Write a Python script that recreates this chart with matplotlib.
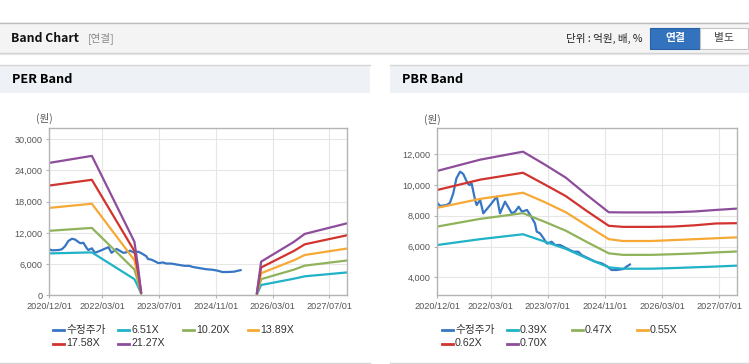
import matplotlib
matplotlib.use("Agg")
import matplotlib.pyplot as plt
import matplotlib.dates as mdates
from matplotlib.patches import Rectangle
from matplotlib.lines import Line2D
from matplotlib.ticker import FuncFormatter, FixedLocator
import pandas as pd

plt.rcParams['font.family'] = ['Liberation Sans', 'Noto Sans CJK KR', 'DejaVu Sans']

# ---------------- data ----------------
price_dates = ['2020-12-01', '2020-12-24', '2021-02-19', '2021-03-19', '2021-04-16', '2021-05-13',
               '2021-06-13', '2021-07-10', '2021-08-16', '2021-09-01', '2021-09-19', '2021-10-19',
               '2021-11-01', '2021-12-01', '2021-12-28', '2022-02-25', '2022-04-22', '2022-05-19',
               '2022-07-01', '2022-08-28', '2022-09-25', '2022-10-25', '2022-11-22', '2023-01-04',
               '2023-02-01', '2023-03-13', '2023-03-28', '2023-04-25', '2023-05-25', '2023-06-22',
               '2023-07-01', '2023-08-01', '2023-09-01', '2023-10-13', '2023-11-10', '2023-12-07',
               '2024-02-04', '2024-03-16', '2024-04-13', '2024-06-10', '2024-08-07', '2024-10-01',
               '2024-11-13', '2024-12-25', '2025-02-07', '2025-04-04', '2025-05-01', '2025-06-01']
price_vals = [8850, 8640, 8700, 8850, 9460, 10440,
              10870, 10720, 10110, 10000, 10110, 9030,
              8700, 9030, 8160, 8700, 9250, 8160,
              8920, 8160, 8270, 8590, 8270, 8380,
              8050, 7510, 6970, 6860, 6540, 6210,
              6200, 6315, 6100, 6100, 5990, 5880,
              5665, 5665, 5450, 5235, 5015, 4910,
              4735, 4475, 4475, 4540, 4690, 4845]

# PER band (two segments, gap between)
per_dates_1 = ['2020-12-01', '2021-12-01', '2022-12-01', '2023-01-01', '2023-01-28']
per_dates_2 = ['2025-10-16', '2025-11-22', '2026-09-01', '2026-12-01', '2027-12-01']
per_labels = ['6.51X', '10.20X', '13.89X', '17.58X', '21.27X']
per_band_1 = [
    [8050, 8250, 3100, 1700, 300],
    [12400, 12950, 4950, 2700, 350],
    [16800, 17600, 6750, 3600, 400],
    [21100, 22200, 8500, 4500, 450],
    [25450, 26800, 10300, 5500, 500],
]
per_band_2 = [
    [120, 1980, 3200, 3650, 4400],
    [180, 3100, 4950, 5700, 6700],
    [250, 4250, 6750, 7750, 9000],
    [320, 5350, 8550, 9800, 11550],
    [380, 6470, 10300, 11800, 13850],
]

# PBR band
pbr_dates = ['2020-12-01', '2021-12-01', '2022-12-01', '2023-06-01', '2023-12-01', '2024-06-01',
             '2024-12-01', '2025-04-01', '2025-12-01', '2026-06-01', '2026-12-01', '2027-06-01',
             '2027-12-01']
pbr_labels = ['0.39X', '0.47X', '0.55X', '0.62X', '0.70X']
pbr_band = [
    [6100, 6480, 6800, 6330, 5850, 5230, 4650, 4560, 4560, 4600, 4650, 4700, 4760],
    [7300, 7800, 8170, 7620, 7030, 6280, 5560, 5460, 5460, 5500, 5550, 5620, 5680],
    [8520, 9100, 9500, 8900, 8230, 7350, 6480, 6360, 6360, 6420, 6480, 6540, 6600],
    [9680, 10350, 10800, 10050, 9280, 8290, 7350, 7280, 7280, 7300, 7380, 7500, 7520],
    [10920, 11650, 12170, 11350, 10480, 9330, 8230, 8220, 8220, 8230, 8280, 8380, 8470],
]

price_label = '수정주가'
x_ticks = ['2020-12-01', '2022-03-01', '2023-07-01', '2024-11-01', '2026-03-01', '2027-07-01']
x_range = ['2020-12-01', '2027-12-01']
per_yticks = [0, 6000, 12000, 18000, 24000, 30000]
pbr_yticks = [4000, 6000, 8000, 10000, 12000]

# ---------------- style ----------------
price_color = '#3776c4'
band_colors = ['#20b2c6', '#8fb35b', '#f6a935', '#d1332e', '#8d4d9b']
W, H = 749, 364

fig = plt.figure(figsize=(W / 100, H / 100), dpi=100)
fig.patch.set_facecolor('white')


def fx(x):
    return x / W


def fy(y):
    return 1 - y / H


def rect(x0, y0, x1, y1, fc, ec='none', lw=0.0, z=0):
    fig.patches.append(Rectangle((fx(x0), fy(y1)), (x1 - x0) / W, (y1 - y0) / H,
                                 transform=fig.transFigure, facecolor=fc,
                                 edgecolor=ec, linewidth=lw, zorder=z))


def hline(x0, x1, y, color, lw=0.8):
    fig.add_artist(Line2D([fx(x0), fx(x1)], [fy(y), fy(y)], color=color, lw=lw,
                          transform=fig.transFigure))


# top header bar
rect(0, 22, W, 53, '#f4f4f4')
hline(0, W, 22.5, '#bdbdbd', 1.0)
hline(0, W, 53.0, '#cfcfcf', 1.0)
hline(0, W, 54.0, '#e6e6e6', 1.0)
fig.text(fx(11), fy(38.5), 'Band Chart', fontsize=8.8, fontweight='bold', color='#111111',
         ha='left', va='center', family=['Noto Sans CJK KR', 'DejaVu Sans'])
fig.text(fx(88), fy(38.5), '[연결]', fontsize=7.6, color='#8a8a8a', ha='left', va='center',
         family=['Noto Sans CJK KR', 'DejaVu Sans'])
fig.text(fx(643), fy(38.5), '단위 : 억원, 배, %', fontsize=7.6, color='#222222', ha='right',
         va='center', family=['Noto Sans CJK KR', 'DejaVu Sans'])
rect(650, 28, 700, 49, '#3372bc', '#2a61a3', 0.8, z=2)
rect(700, 28, 748, 49, '#ffffff', '#c4c4c4', 0.8, z=2)
fig.text(fx(675), fy(38.5), '연결', fontsize=7.8, fontweight='bold', color='white',
         ha='center', va='center', family=['Noto Sans CJK KR', 'DejaVu Sans'], zorder=3)
fig.text(fx(724), fy(38.5), '별도', fontsize=7.8, color='#444444',
         ha='center', va='center', family=['Noto Sans CJK KR', 'DejaVu Sans'], zorder=3)

# panel headers
for (x0, x1, title, tx) in [(0, 370, 'PER Band', 12), (390, W, 'PBR Band', 402)]:
    rect(x0, 65, x1, 93, '#eef1f6')
    hline(x0, x1, 64.5, '#d6d6d6', 1.0)
    hline(x0, x1, 362.5, '#d6d6d6', 1.0)
    fig.text(fx(tx), fy(79.5), title, fontsize=9.2, fontweight='bold', color='#000000',
             ha='left', va='center', family=['Noto Sans CJK KR', 'DejaVu Sans'])

fmt = FuncFormatter(lambda v, p: f"{int(round(v)):,}")


def style_axes(ax, yticks, ylim):
    ax.set_xlim(pd.to_datetime(x_range[0]), pd.to_datetime(x_range[1]))
    ax.set_ylim(*ylim)
    ax.xaxis.set_major_locator(FixedLocator(mdates.date2num(pd.to_datetime(x_ticks))))
    ax.xaxis.set_major_formatter(mdates.DateFormatter('%Y/%m/%d'))
    ax.set_yticks(yticks)
    ax.yaxis.set_major_formatter(fmt)
    ax.grid(True, color='#e6e6e6', lw=0.8)
    ax.set_axisbelow(True)
    for s in ax.spines.values():
        s.set_color('#b4b4b4')
        s.set_linewidth(1.0)
    ax.tick_params(axis='both', labelsize=6.6, colors='#b4b4b4', labelcolor='#555555',
                   length=2.2, width=0.8, pad=2.6)


def draw(ax, dates, vals, color):
    ax.plot(pd.to_datetime(dates), vals, color=color, lw=1.6,
            solid_joinstyle='round', solid_capstyle='round')


# PER axes
ax1 = fig.add_axes([fx(49.3), fy(295.3), 298 / W, 167 / H])
style_axes(ax1, per_yticks, (0, 32100))
draw(ax1, price_dates, price_vals, price_color)
for vals1, vals2, c in zip(per_band_1, per_band_2, band_colors):
    draw(ax1, per_dates_1, vals1, c)
    draw(ax1, per_dates_2, vals2, c)

# PBR axes
ax2 = fig.add_axes([fx(437.3), fy(295.3), 300 / W, 167 / H])
style_axes(ax2, pbr_yticks, (2830, 13690))
draw(ax2, price_dates, price_vals, price_color)
for vals, c in zip(pbr_band, band_colors):
    draw(ax2, pbr_dates, vals, c)

# unit labels
fig.text(fx(44), fy(118), '(원)', fontsize=7.6, color='#555555', ha='center', va='center',
         family=['Noto Sans CJK KR', 'DejaVu Sans'])
fig.text(fx(432), fy(119), '(원)', fontsize=7.6, color='#555555', ha='center', va='center',
         family=['Noto Sans CJK KR', 'DejaVu Sans'])


# legends (row-major, fixed columns)
def legend(x_cols, labels, colors):
    rows_y = [330, 343.5]
    for i, (lab, col) in enumerate(zip(labels, colors)):
        r, c = divmod(i, 4)
        x = x_cols[c]
        y = rows_y[r]
        fig.add_artist(Line2D([fx(x), fx(x + 10.5)], [fy(y), fy(y)], color=col, lw=2.0,
                              transform=fig.transFigure))
        fig.text(fx(x + 13), fy(y), lab, fontsize=7.7, color='#333333', ha='left',
                 va='center', family=['Liberation Sans', 'Noto Sans CJK KR'])


legend([53, 118, 183, 247.5], [price_label] + per_labels, [price_color] + band_colors)
legend([442, 507, 572, 637], [price_label] + pbr_labels, [price_color] + band_colors)

fig.savefig('out.png', dpi=100, facecolor='white')
